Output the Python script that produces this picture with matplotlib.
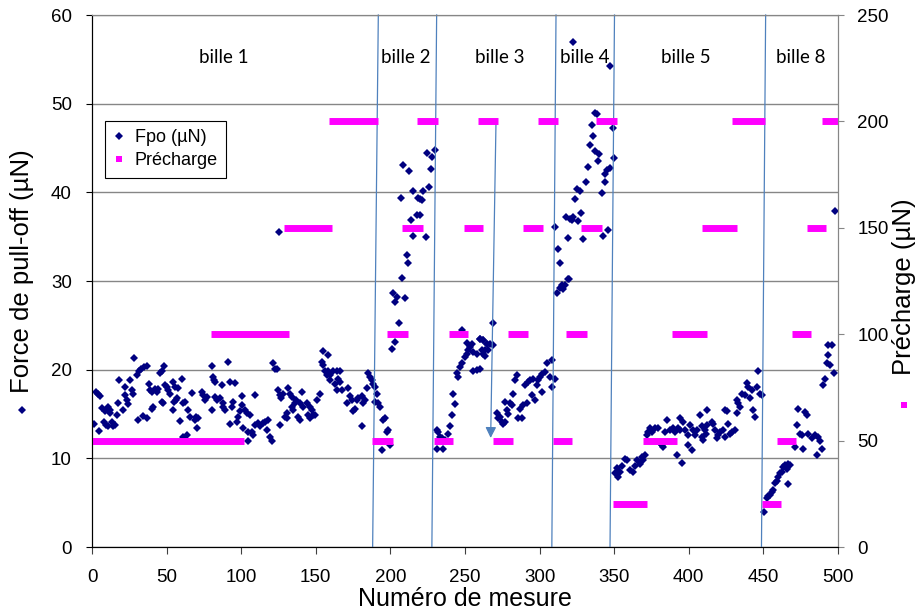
import numpy as np
import matplotlib.pyplot as plt
from matplotlib.lines import Line2D

plt.rcParams['font.family'] = ['Liberation Sans', 'DejaVu Sans']

# ──────────────────────────────────────────────
# DONNÉES
# ──────────────────────────────────────────────

# Fpo (µN) — bille 1
b1_x = [1.6, 2.5, 3.8, 4.7, 5.4, 6.9, 8.3, 8.7, 9.5, 11, 11, 11.8, 12, 13.3, 14.4,
        15.4, 16.5, 17.6, 18.3, 21, 22, 22, 23.2, 24.4, 25.5, 26.6, 27.7, 28.4, 30,
        31, 31.5, 33, 34.4, 35, 36.6, 36.6, 38.2, 39, 40, 40.2, 41, 42.5, 43.5, 44.5,
        45.6, 46.7, 46.7, 47.8, 48.3, 49, 50, 51.2, 52.3, 54.5, 54.5, 55, 55.6, 56,
        56.7, 57.8, 59, 60.1, 61.2, 61.2, 62.3, 63.4, 64.6, 65.7, 66.8, 69, 70, 70.5,
        71.3, 73.5, 74.6, 75.8, 76.9, 80.2, 80.2, 81, 81.5, 82.4, 82.4, 83.5, 85.8,
        87, 87.5, 88, 89, 90.9, 92.5, 92.5, 93.6, 94.7, 95.8, 97, 98, 99, 100.3,
        100.5, 101.4, 102.6, 103.7, 104.8, 104.8, 105.9, 107, 108.1, 109.3, 109.3,
        111.5, 112.6, 114.8, 116, 117, 118.2, 119.3, 120.4, 121.5, 122.6, 123.8,
        124.9, 125.3, 126, 126, 127, 128.2, 129.4, 130.5, 130.5, 131.6, 132.7, 133.8,
        133.8, 135, 136, 137, 138.2, 139.3, 139.3, 140.5, 141.7, 143.9, 145, 146.1,
        146.1, 147.2, 148.3, 149.5, 150.6, 152.8, 154, 155, 155, 156.2, 157.3, 158.4,
        158.4, 159.5, 159.5, 161.8, 162.9, 164, 164, 165.1, 166.2, 166.2, 167.4,
        170.7, 171.8, 172.9, 174, 175.2, 176.3, 177.4, 178.5, 180.8, 180.8, 181.9,
        183, 184.1, 185.2, 186.3, 187.4, 188.5, 189.7]
b1_y = [13.9, 17.5, 17.3, 13.1, 17.0, 15.7, 14.1, 15.3, 13.8, 13.6, 15.8, 15.4, 15.1,
        14.1, 13.6, 13.8, 14.9, 16.2, 18.8, 15.4, 18.1, 17.1, 16.6, 16.1, 18.8, 17.7,
        17.3, 21.3, 19.4, 14.3, 19.8, 20.1, 14.8, 20.3, 20.4, 14.5, 18.4, 17.7, 15.6,
        17.5, 15.8, 17.8, 17.5, 17.8, 19.6, 19.8, 16.4, 16.2, 20.4, 18.3, 18.0, 17.7,
        17.3, 18.6, 15.4, 16.4, 18.1, 16.6, 16.8, 17.9, 14.2, 18.9, 12.4, 16.2, 16.4,
        12.6, 15.4, 14.7, 17.4, 14.3, 14.7, 13.4, 14.5, 17.5, 17.1, 16.6, 16.9, 20.4,
        15.5, 19.2, 18.8, 18.6, 16.9, 16.6, 16.8, 18.3, 16.2, 15.8, 15.4, 20.9, 13.9,
        18.6, 15.8, 16.4, 18.5, 14.1, 14.7, 15.3, 17.0, 16.0, 13.4, 15.4, 15.1, 11.9,
        13.0, 14.9, 13.0, 12.6, 17.1, 13.8, 14.0, 13.6, 14.0, 14.1, 13.2, 14.3, 12.4,
        12.0, 20.7, 20.1, 20.1, 17.7, 35.5, 17.1, 13.8, 16.8, 17.3, 14.7, 15.1, 14.5,
        17.9, 17.3, 16.9, 15.8, 15.4, 16.2, 16.6, 14.7, 14.3, 16.2, 17.5, 15.8, 16.2,
        14.9, 15.8, 14.5, 15.4, 14.9, 14.9, 16.6, 17.2, 20.9, 22.1, 20.5, 19.9, 19.4,
        21.6, 19.8, 19.4, 18.8, 19.9, 18.4, 19.8, 17.7, 19.0, 19.8, 18.6, 17.7, 16.2,
        17.9, 17.0, 16.6, 15.3, 15.6, 16.6, 16.8, 17.0, 13.6, 16.2, 16.6, 17.9, 19.6,
        19.2, 18.8, 18.4, 18.1]

# Fpo (µN) — bille 2
b2_x = [189.7, 190.8, 191.9, 193, 194.1, 195.2, 196.4, 197.5, 198.4, 199.7, 200.8,
        202, 203.1, 203.1, 204.2, 206, 206.9, 207.5, 208.6, 209.8, 210.9, 212, 212.7,
        213.8, 214.9, 215.3, 217.6, 218.7, 219.8, 219.8, 220.9, 222, 223.8, 224.3,
        226.1, 227, 227.6, 229.9]
b2_y = [16.4, 17.3, 16.2, 15.8, 10.9, 14.3, 14.5, 13.0, 13.2, 11.5, 22.3, 28.6, 23.1,
        27.6, 28.2, 25.3, 39.4, 30.3, 43.1, 28.1, 32.9, 32.0, 42.4, 36.9, 40.2, 35.1,
        37.4, 39.4, 37.4, 39.2, 39.1, 40.1, 35.0, 44.4, 40.6, 42.6, 44.0, 44.8]

# Fpo (µN) — bille 3
b3_x = [231, 231, 232.1, 233.2, 234.3, 235.5, 236.6, 238.8, 239.9, 241, 242.2, 243.3,
        244.4, 245.5, 246.6, 247.7, 247.7, 250, 251.1, 251.1, 252.2, 253.3, 254.4,
        255.6, 255.6, 257.8, 257.8, 260, 260.1, 260.1, 261.2, 262.3, 262.3, 262.3,
        263.4, 263.5, 264.5, 264.6, 265.7, 266.8, 268.6, 269, 271.3, 272.4, 273.5,
        274.6, 275.7, 276.9, 276.9, 278, 279.1, 280.2, 281.3, 282.4, 283.6, 284.7,
        285.8, 286.9, 288, 289.1, 290.3, 291.4, 292.5, 293.6, 294.7, 295.8, 297,
        298.1, 299.2, 300.3, 301.4, 301.4, 303.7, 304.8, 307, 308.1, 308.1, 310.4]
b3_y = [13.2, 11.1, 13.0, 12.4, 12.3, 11.1, 12.1, 12.8, 13.6, 14.9, 17.3, 16.1, 19.6,
        19.2, 20.3, 20.7, 24.5, 21.4, 21.8, 23.0, 22.2, 22.6, 22.9, 22.0, 19.9, 21.8,
        20.0, 23.5, 23.5, 20.1, 22.2, 23.3, 23.3, 21.8, 22.2, 21.5, 22.9, 22.9, 22.2,
        22.9, 25.3, 22.8, 15.1, 14.5, 14.7, 14.1, 13.9, 14.1, 16.4, 15.4, 15.0, 16.2,
        16.0, 17.3, 18.8, 19.4, 14.5, 15.6, 14.5, 16.0, 18.3, 16.2, 18.6, 18.8, 17.1,
        19.0, 16.6, 18.3, 18.8, 19.2, 19.5, 17.5, 19.7, 20.7, 19.2, 21.1, 18.1, 19.0]

# Fpo (µN) — bille 4
b4_x = [310.3, 311.5, 312.6, 313.7, 313.7, 314.8, 315.9, 317.1, 317.7, 318.8, 319.3,
        320, 320.4, 321.5, 322.6, 322.6, 323.8, 324.9, 326, 327.1, 327.8, 328.9,
        331.1, 332.7, 333.8, 334.9, 335.6, 337.2, 337.2, 338.3, 339.4, 340.1, 341.6,
        342.7, 343.9, 343.9, 345, 346.1, 347.2, 347.2, 349, 349.9]
b4_y = [36.1, 28.7, 33.6, 32.0, 29.2, 29.5, 29.1, 29.5, 37.2, 34.8, 30.2, 30.2, 37.0,
        36.9, 37.2, 56.9, 39.3, 40.4, 36.8, 40.2, 37.7, 34.7, 41.2, 42.9, 45.3, 47.6,
        46.3, 48.9, 44.7, 48.8, 43.5, 44.3, 39.9, 35.1, 42.1, 41.2, 42.5, 35.8, 42.7,
        54.3, 47.2, 43.9]

# Fpo (µN) — bille 5
b5_x = [350.5, 351.7, 352.8, 353.9, 355, 357.3, 358.4, 360.6, 362.8, 364, 365.1,
        367.3, 368.4, 369.5, 370.7, 371.8, 372.9, 374, 375.1, 377.4, 379.6, 380.7,
        381.8, 383, 384.1, 385.2, 387.4, 389.7, 390.8, 391.9, 393, 394.1, 394.1, 395.2,
        396.4, 397.5, 399.7, 399.7, 400.8, 401.9, 403.1, 404.2, 405.3, 407.5, 408.6,
        408.6, 409.8, 410.9, 411.5, 412, 412.4, 415.3, 416.5, 417.6, 418.7, 419.8,
        421, 423.2, 424.3, 424.3, 425.4, 426.5, 427.6, 428.7, 431, 432.1, 432.1,
        433.2, 434.3, 435.5, 437.7, 438.8, 439.9, 441, 442.2, 443.3, 444.4, 445.5,
        446.6, 447.7, 448.9]
b5_y = [8.3, 8.9, 7.9, 8.5, 9.1, 9.9, 9.8, 8.7, 8.5, 9.1, 9.8, 9.4, 10.2, 9.8, 10.4,
        12.6, 13.0, 13.4, 13.0, 13.4, 13.4, 11.7, 11.5, 11.3, 13.0, 14.3, 13.2, 13.4,
        13.0, 10.4, 13.4, 13.2, 14.5, 9.5, 14.1, 13.2, 12.6, 11.5, 13.8, 10.9, 13.2,
        12.6, 13.2, 14.9, 13.6, 12.4, 12.1, 13.2, 12.8, 13.8, 15.5, 14.1, 13.9, 13.2,
        12.3, 12.6, 13.0, 13.2, 12.4, 15.4, 15.3, 13.9, 12.8, 13.0, 13.2, 15.1, 16.6,
        16.2, 15.8, 17.3, 17.1, 18.5, 18.1, 16.8, 17.7, 15.5, 14.7, 18.1, 19.8, 17.3,
        17.1]

# Fpo (µN) — bille 8
b8_x = [450.4, 452.2, 453.3, 454.4, 455.5, 456.6, 457.8, 458.9, 460, 461.1, 462.2,
        463.3, 464.5, 465.6, 466.7, 466.7, 467.8, 471.2, 472.3, 473.4, 474.5, 475.6,
        476.7, 477.9, 479, 480.1, 482.3, 484.6, 485.7, 486.8, 488, 489, 490.2, 491.3,
        492.4, 493.1, 493.5, 494.6, 495.7, 497.3, 498]
b8_y = [3.9, 5.5, 5.7, 5.9, 6.2, 6.4, 7.2, 7.5, 7.9, 8.3, 8.5, 9.0, 9.2, 8.8, 9.4,
        7.1, 9.2, 11.3, 13.8, 15.6, 12.8, 12.6, 11.1, 15.2, 14.9, 12.8, 12.3, 12.6,
        10.4, 12.4, 11.9, 11.0, 18.3, 19.0, 20.7, 22.8, 21.6, 20.5, 22.8, 19.6, 37.9]

# Précharge (µN): paliers (début, fin, valeur)
pre_start = [0, 80, 129, 159, 188, 198, 208, 218, 229, 239, 249, 259, 269, 279, 289,
             299, 309, 318, 328, 338, 349, 369, 389, 409, 429, 449, 459, 469, 479, 489]
pre_end = [102, 132, 161, 192, 202, 212, 222, 232, 242, 252, 262, 272, 282, 292, 302,
           312, 322, 332, 342, 352, 372, 392, 412, 432, 451, 462, 472, 482, 492, 500]
pre_val = [50, 100, 150, 200, 50, 100, 150, 200, 50, 100, 150, 200, 50, 100, 150,
           200, 50, 100, 150, 200, 20, 50, 100, 150, 200, 20, 50, 100, 150, 200]

# Séparations entre billes (x en bas, x en haut)
sep_bottom = [188.1, 227.8, 308.2, 347.2, 448.7]
sep_top = [191.9, 231.0, 311.0, 350.2, 451.5]

bille_labels = ["bille 1", "bille 2", "bille 3", "bille 4", "bille 5", "bille 8"]
bille_label_x = [88.5, 210.5, 273.5, 330.4, 398, 475.2]

NAVY = "#000080"
PINK = "#FF00FF"
LINE_BLUE = "#4F81BD"
GRID = "#868686"

# ──────────────────────────────────────────────
# FIGURE
# ──────────────────────────────────────────────

fig = plt.figure(figsize=(9.2, 6.13), dpi=100)
ax = fig.add_axes([92 / 920, 66 / 613, 746 / 920, 532 / 613])
ax2 = ax.twinx()

for xs, ys in [(b1_x, b1_y), (b2_x, b2_y), (b3_x, b3_y), (b4_x, b4_y),
               (b5_x, b5_y), (b8_x, b8_y)]:
    ax.plot(xs, ys, ls="none", marker="D", ms=3.9, mew=0, color=NAVY, zorder=3)

ax2.hlines(pre_val, pre_start, pre_end, colors=PINK, lw=5, capstyle="butt", zorder=2)

for xb, xt in zip(sep_bottom, sep_top):
    ax.plot([xb, xt], [0, 60], color=LINE_BLUE, lw=0.9, zorder=4, clip_on=False)

ax.annotate("", xy=(267.2, 12.3), xytext=(270.8, 48.2),
            arrowprops=dict(arrowstyle="-|>", color=LINE_BLUE, lw=0.9,
                            mutation_scale=16, shrinkA=0, shrinkB=0))

for lbl, xl in zip(bille_labels, bille_label_x):
    ax.text(xl, 55.2, lbl, ha="center", va="center", fontsize=13.5,
            family=["Lato", "DejaVu Sans"])

# axes
ax.set_xlim(0, 500)
ax.set_ylim(0, 60)
ax2.set_ylim(0, 250)
ax.set_xticks(np.arange(0, 501, 50))
ax.set_yticks(np.arange(0, 61, 10))
ax2.set_yticks(np.arange(0, 251, 50))

ax.set_axisbelow(True)
ax.yaxis.grid(True, color=GRID, lw=1)

for a in (ax, ax2):
    a.spines["left"].set_color("black")
    a.spines["bottom"].set_color("black")
    a.spines["top"].set_color(GRID)
    a.spines["right"].set_color(GRID)

ax.tick_params(axis="y", direction="out", length=4.5, pad=10, labelsize=13.5)
ax.tick_params(axis="x", direction="out", length=5, pad=11, labelsize=13.5,
               color="#404040")
ax2.tick_params(axis="y", direction="out", length=4.5, pad=9.5, labelsize=13.5,
                color=GRID)

handles = [Line2D([], [], ls="none", marker="D", ms=3.6, mew=0, color=NAVY),
           Line2D([], [], ls="none", marker="s", ms=5, mew=0, color=PINK)]
leg = ax2.legend(handles, ["Fpo (µN)", "Précharge"], loc="upper left",
                 bbox_to_anchor=(0.0174, 0.8008), borderaxespad=0, fontsize=13,
                 fancybox=False, edgecolor="black", framealpha=1,
                 handlelength=0.6, handletextpad=0.6, borderpad=0.45,
                 labelspacing=0.35)
leg.get_frame().set_linewidth(0.8)

# titres des axes (avec la clé de légende comme dans Excel)
fig.text(22 / 920, 1 - 271 / 613, "Force de pull-off (µN)", rotation=90,
         ha="center", va="center", fontsize=18.5)
fig.add_artist(Line2D([22 / 920], [1 - 410 / 613], transform=fig.transFigure,
                      ls="none", marker="D", ms=3.6, mew=0, color=NAVY))
fig.text(904 / 920, 1 - 287 / 613, "Précharge (µN)", rotation=90,
         ha="center", va="center", fontsize=18.5)
fig.add_artist(Line2D([904 / 920], [1 - 405 / 613], transform=fig.transFigure,
                      ls="none", marker="s", ms=5, mew=0, color=PINK))
fig.text(465 / 920, 1 - 606 / 613, "Numéro de mesure", ha="center",
         va="baseline", fontsize=18)

fig.savefig("out.png", dpi=100)
